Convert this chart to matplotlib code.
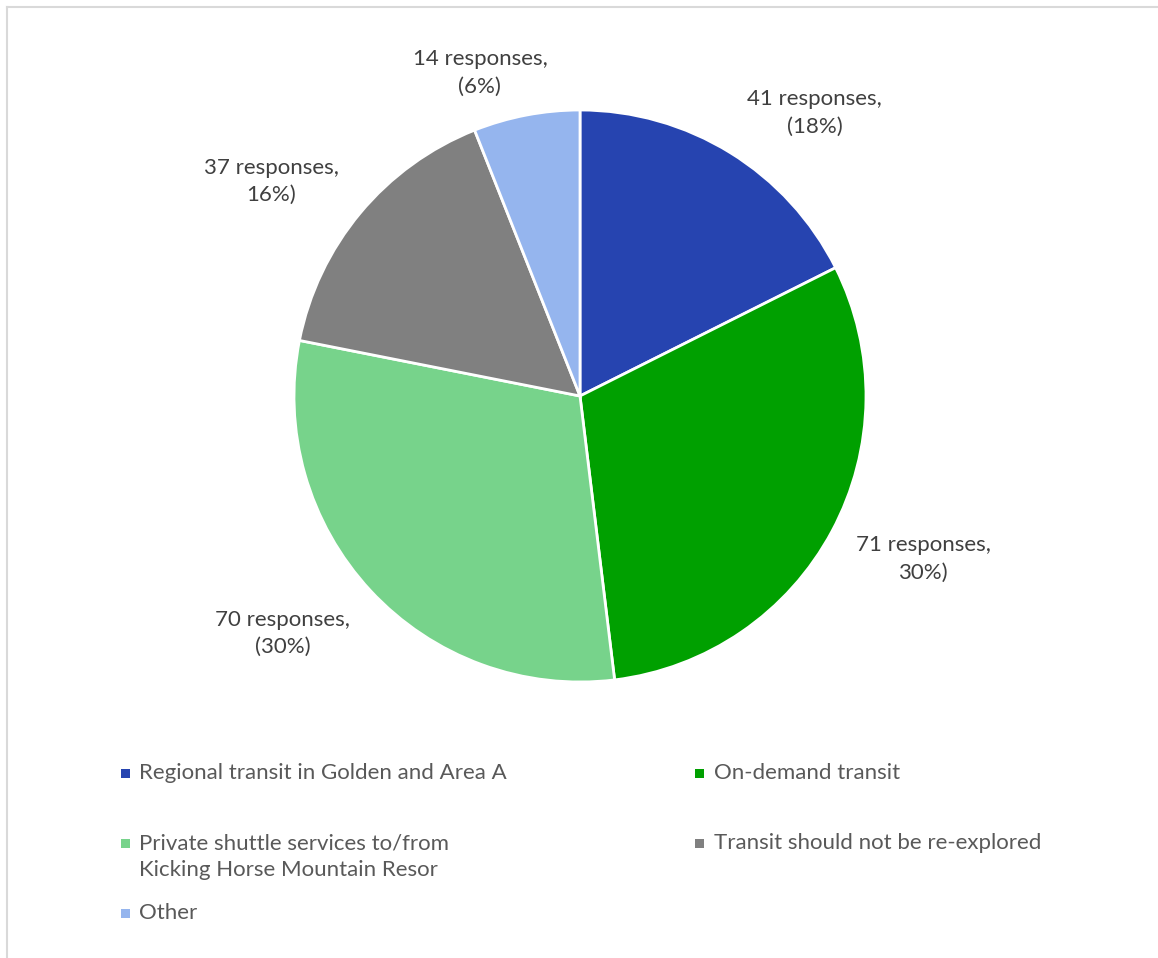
import matplotlib.pyplot as plt
from matplotlib.patches import Rectangle
from matplotlib.lines import Line2D

plt.rcParams["font.family"] = ["Lato", "DejaVu Sans"]

categories = [
    "Regional transit in Golden and Area A",
    "On-demand transit",
    "Private shuttle services to/from\nKicking Horse Mountain Resor",
    "Transit should not be re-explored",
    "Other",
]
responses = [41, 71, 70, 37, 14]
value_labels = [
    "41 responses,\n(18%)",
    "71 responses,\n30%)",
    "70 responses,\n(30%)",
    "37 responses,\n16%)",
    "14 responses,\n(6%)",
]
colors = ["#2644B0", "#00A000", "#77D38B", "#808080", "#95B5EE"]

# where each value label sits, in pie radius units
label_pos = [(0.82, 0.99), (1.20, -0.57), (-1.04, -0.83), (-1.08, 0.75), (-0.35, 1.13)]

W, H = 1158, 958
fig = plt.figure(figsize=(W / 100, H / 100), dpi=100)

cx, cy, r = 580, 396, 286
ax = fig.add_axes([(cx - r) / W, (H - cy - r) / H, 2 * r / W, 2 * r / H])
ax.pie(responses, colors=colors, startangle=90, counterclock=False,
       wedgeprops=dict(edgecolor="white", linewidth=2))
ax.set_xlim(-1, 1)
ax.set_ylim(-1, 1)
ax.set_aspect("equal")

for text, (x, y) in zip(value_labels, label_pos):
    ax.text(x, y, text, ha="center", va="center", fontsize=16,
            color="#404040", linespacing=1.45, clip_on=False)

# legend, two columns laid out row by row
legend_cells = [(125, 773), (700, 773), (125, 843), (700, 843), (125, 913)]
for name, color, (x, y) in zip(categories, colors, legend_cells):
    fig.patches.append(Rectangle(((x - 4.5) / W, (H - y - 4.5) / H), 9 / W, 9 / H,
                                 transform=fig.transFigure, facecolor=color,
                                 edgecolor="none"))
    fig.text((x + 14) / W, (H - y + 10) / H, name, ha="left", va="top",
             fontsize=16, color="#595959", linespacing=1.45)

# chart frame (top and left edges)
fig.add_artist(Line2D([7 / W, 1], [1 - 7 / H, 1 - 7 / H], color="#D9D9D9", lw=1.5))
fig.add_artist(Line2D([7 / W, 7 / W], [0, 1 - 7 / H], color="#D9D9D9", lw=1.5))

fig.savefig("out.png", dpi=100, facecolor="white")
